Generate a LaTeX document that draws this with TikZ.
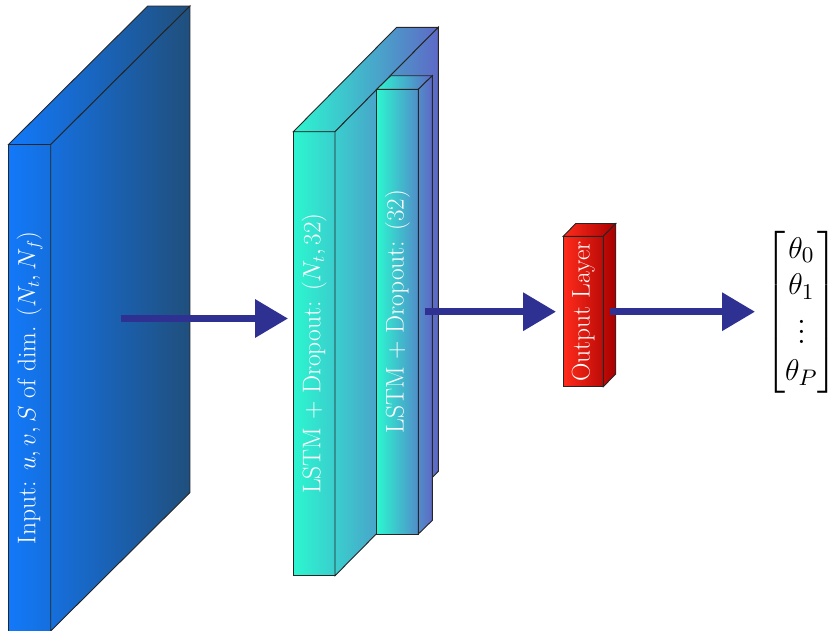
\documentclass[tikz,border=0pt]{standalone}
\usepackage{amsmath}
\usetikzlibrary{arrows.meta}
\definecolor{inL}{HTML}{1279FA}
\definecolor{inR}{HTML}{204F7C}
\definecolor{lsL}{HTML}{2CF6D0}
\definecolor{lsR}{HTML}{5E69C6}
\definecolor{outL}{HTML}{FF2C1C}
\definecolor{outR}{HTML}{A80000}
\definecolor{arrowblue}{HTML}{2E3192}
\tikzset{
  boxedge/.style={draw=black!85, line width=0.9pt, line join=miter},
  boxlabel/.style={text=white, rotate=90, inner sep=0pt, font=\fontsize{25.5}{30}\selectfont},
  flow/.style={draw=arrowblue, line width=6.7pt, -{Triangle[length=33pt,width=37pt]}, color=arrowblue}
}
% #1 x1, #2 y1 (top), #3 x2, #4 y2 (bottom), #5 dx, #6 dy, #7 left colour, #8 right colour
\newcommand{\nnbox}[8]{%
  \draw[boxedge, path picture={\shade[left color=#7, right color=#8] (#1,0) rectangle ({#3+#5},640);}]
    (#1,#2) rectangle (#3,#4);
  \draw[boxedge, path picture={\shade[left color=#7, right color=#8] (#1,0) rectangle ({#3+#5},640);}]
    (#1,#2) -- ({#1+#5},{#2-#6}) -- ({#3+#5},{#2-#6}) -- (#3,#2) -- cycle;
  \draw[boxedge, path picture={\shade[left color=#7, right color=#8] (#1,0) rectangle ({#3+#5},640);}]
    (#3,#2) -- ({#3+#5},{#2-#6}) -- ({#3+#5},{#4-#6}) -- (#3,#4) -- cycle;
}
\begin{document}
\begin{tikzpicture}[x=1pt,y=-1pt]
\useasboundingbox (0,0) rectangle (834,630);
\begin{scope}
\clip (0,0) rectangle (834,630);
% input
\nnbox{8.5}{144.5}{50.7}{631}{139.3}{138.5}{inL}{inR}
\node[boxlabel] (inlab) at (29.6,387.7) {Input: $u,v,S$ of dim. $(N_t,N_f)$};
% LSTM 1
\nnbox{293.3}{131.7}{335}{575.7}{103.3}{104.4}{lsL}{lsR}
\node[boxlabel] (l1lab) at (314.2,353.7) {LSTM + Dropout: $(N_t,32)$};
% LSTM 2
\nnbox{376.7}{89.3}{418.3}{534}{14}{13.6}{lsL}{lsR}
\node[boxlabel] (l2lab) at (397.5,311.7) {LSTM + Dropout: $(32)$};
% output
\nnbox{563.3}{236.3}{603.3}{386.7}{12.4}{12.8}{outL}{outR}
\node[boxlabel] (outlab) at (583.3,311.5) {Output Layer};
\end{scope}
% result vector
\node[scale=2.5, transform shape, inner sep=0pt, font=\fontsize{13}{14.5}\selectfont] (theta) at (801.5,312)
  {$\begin{bmatrix}\theta_0\\ \theta_1\\ \vdots\\ \theta_P\end{bmatrix}$};
% connectors
\coordinate (inE) at (120.5,318.5);
\coordinate (l1W) at (288,318.5);
\coordinate (l2E) at (425,311.7);
\coordinate (outW) at (556,311.7);
\coordinate (outE) at (609.5,311.7);
\coordinate (thW) at (755,311.7);
\draw[flow] (inE) -- (l1W);
\draw[flow] (l2E) -- (outW);
\draw[flow] (outE) -- (thW);
\end{tikzpicture}
\end{document}
